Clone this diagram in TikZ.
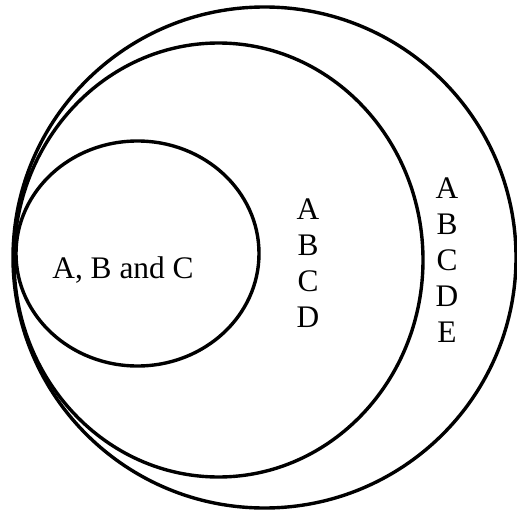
\documentclass[tikz,border=0pt]{standalone}
\usepackage{fontspec}
\setmainfont{Liberation Serif}
\usepackage{tikz}
\usetikzlibrary{positioning}

\begin{document}
\begin{tikzpicture}[x=1bp, y=-1bp, line width=3.4bp,
    every node/.style={font=\fontsize{31.5}{36}\selectfont, align=center}]
  \useasboundingbox (0,0) rectangle (517,512);
  % three nested sets, all touching on the left
  \draw (264.5,257.5) ellipse (251.5 and 250.5);
  \draw (218.5,260) ellipse (204.5 and 217);
  \draw (137.5,253.5) ellipse (121.5 and 112.5);
  \node (abc) at (123,270) {A, B and C};
  \node (abcd) at (308,263) {A\\B\\C\\D};
  \node (abcde) at (447,260) {A\\B\\C\\D\\E};
\end{tikzpicture}
\end{document}
